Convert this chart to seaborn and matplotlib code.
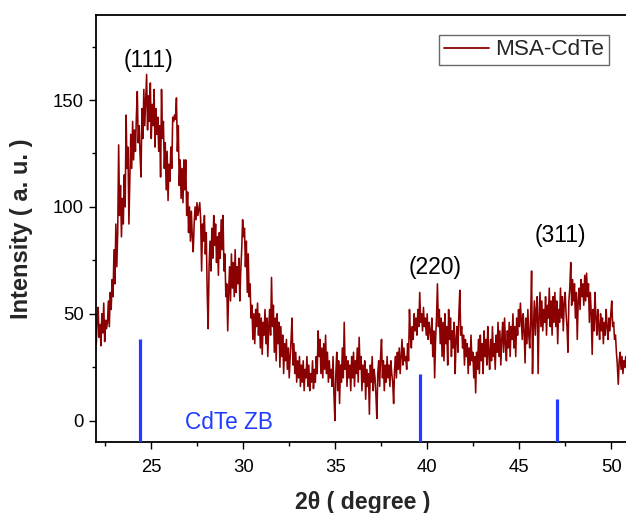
import numpy as np
import pandas as pd
import matplotlib
matplotlib.use("Agg")
import matplotlib.pyplot as plt
import seaborn as sns
from matplotlib.ticker import MultipleLocator

# ---- data ----
theta_start, theta_end = 21.61, 50.93   # 2-theta scan range
intensity = [
    48, 42, 52, 40, 46, 38, 50, 44, 36, 47, 53, 39, 45, 35, 50, 41, 55, 37, 47, 43,
    46, 56, 44, 60, 52, 66, 58, 80, 64, 92, 72, 88, 129, 96, 110, 86, 104, 92, 115, 100,
    143, 118, 128, 92, 112, 134, 118, 140, 122, 136, 126, 142, 154, 130, 138, 124, 114, 146, 132, 155,
    138, 150, 162, 136, 152, 140, 158, 132, 148, 138, 155, 128, 146, 134, 142, 126, 138, 114, 155, 132,
    140, 118, 130, 108, 126, 103, 120, 112, 128, 118, 142, 140, 143, 141, 151, 126, 138, 110, 122, 104,
    118, 102, 122, 108, 122, 96, 107, 88, 100, 84, 98, 86, 79, 92, 100, 94, 102, 96, 99, 102,
    94, 70, 92, 84, 96, 78, 88, 60, 43, 72, 84, 70, 90, 76, 96, 82, 92, 74, 86, 68,
    88, 76, 94, 80, 96, 70, 78, 58, 64, 42, 60, 72, 56, 78, 62, 74, 58, 80, 60, 72,
    64, 76, 56, 70, 80, 94, 86, 90, 72, 84, 60, 78, 58, 64, 48, 54, 38, 50, 36, 52,
    44, 55, 40, 50, 34, 48, 31, 46, 40, 52, 36, 48, 30, 44, 52, 40, 67, 44, 54, 32,
    48, 28, 50, 36, 46, 25, 44, 30, 40, 22, 36, 28, 38, 24, 34, 20, 30, 38, 48, 26,
    36, 22, 32, 18, 28, 20, 30, 16, 26, 18, 28, 14, 24, 20, 30, 16, 26, 14, 22, 18,
    28, 15, 24, 18, 30, 22, 42, 30, 38, 22, 34, 20, 36, 24, 40, 22, 32, 18, 28, 20,
    24, 16, 30, 12, 0, 22, 32, 14, 28, 8, 26, 18, 34, 20, 46, 24, 30, 16, 28, 20,
    26, 14, 30, 20, 32, 16, 28, 22, 34, 18, 39, 24, 30, 14, 26, 18, 28, 10, 24, 16,
    22, 3, 26, 18, 30, 14, 24, 20, 12, 1, 22, 28, 16, 30, 38, 20, 28, 14, 26, 18,
    30, 20, 26, 16, 28, 22, 18, 8, 24, 30, 20, 32, 24, 34, 22, 30, 38, 26, 34, 28,
    30, 24, 36, 28, 52, 40, 34, 44, 38, 50, 42, 48, 40, 52, 44, 60, 46, 50, 42, 53,
    44, 48, 40, 50, 38, 46, 42, 36, 48, 30, 42, 20, 38, 48, 64, 44, 52, 36, 48, 30,
    46, 28, 50, 36, 44, 26, 52, 38, 48, 30, 42, 34, 46, 22, 38, 44, 32, 50, 61, 40,
    44, 34, 40, 26, 38, 30, 36, 22, 34, 26, 40, 28, 32, 20, 30, 13, 32, 24, 38, 22,
    40, 28, 36, 22, 42, 30, 38, 26, 44, 32, 24, 38, 28, 44, 30, 36, 24, 40, 32, 46,
    30, 42, 26, 38, 46, 32, 48, 36, 28, 42, 34, 46, 30, 44, 38, 50, 34, 44, 30, 48,
    40, 52, 44, 55, 46, 38, 50, 42, 27, 48, 36, 52, 40, 34, 48, 70, 22, 44, 56, 40,
    52, 58, 22, 48, 60, 44, 56, 42, 52, 46, 58, 40, 54, 48, 62, 44, 56, 40, 58, 46,
    60, 44, 56, 36, 52, 46, 62, 48, 58, 42, 55, 60, 50, 44, 32, 56, 62, 74, 54, 66,
    56, 64, 48, 60, 38, 56, 62, 52, 66, 58, 64, 54, 68, 56, 69, 58, 64, 46, 60, 50,
    31, 52, 42, 60, 48, 40, 52, 44, 38, 50, 42, 48, 36, 46, 40, 52, 44, 38, 48, 42,
    50, 56, 44, 46, 38, 40, 32, 26, 17, 28, 32, 24, 30, 22, 28, 25, 30, 24, 28, 26,
]
series_name = "MSA-CdTe"

ref_positions = [24.41, 39.58, 47.05]   # CdTe zinc-blende reference lines
ref_heights = [38.2, 21.8, 10.1]
ref_label = "CdTe ZB"

peak_labels = ["(111)", "(220)", "(311)"]
peak_label_x = [24.86, 40.41, 47.25]
peak_label_y = [168.5, 71.5, 86.5]

x_ticks = [25, 30, 35, 40, 45, 50]
y_ticks = [0, 50, 100, 150]

df = pd.DataFrame({
    "two_theta": np.linspace(theta_start, theta_end, len(intensity)),
    "intensity": intensity,
    "sample": series_name,
})

# ---- figure ----
sns.set_style("ticks")
plt.rcParams["font.family"] = ["Liberation Sans", "DejaVu Sans"]

W, H = 626, 513
fig = plt.figure(figsize=(W / 100, H / 100), dpi=100)
left_px, right_px, top_px, bottom_px = 96, 630, 15, 442
ax = fig.add_axes([left_px / W, (H - bottom_px) / H,
                   (right_px - left_px) / W, (bottom_px - top_px) / H])

sns.lineplot(data=df, x="two_theta", y="intensity", hue="sample",
             palette={series_name: "#8b0000"}, linewidth=1.15, ax=ax,
             estimator=None, sort=False)

ymin = -10.0
ax.vlines(ref_positions, ymin, ref_heights, color="#1f3cff", linewidth=2.3, zorder=3)
ax.text(29.21, -1.1, ref_label, color="#1f3cff", fontsize=16.3, ha="center", va="center")

for lab, lx, ly in zip(peak_labels, peak_label_x, peak_label_y):
    ax.text(lx, ly, lab, fontsize=16.5, ha="center", va="center", color="black")

ax.set_xlim(22.0, 51.01)
ax.set_ylim(ymin, 189.8)
ax.set_xticks(x_ticks)
ax.set_yticks(y_ticks)
ax.xaxis.set_minor_locator(MultipleLocator(2.5))
ax.yaxis.set_minor_locator(MultipleLocator(25))
ax.tick_params(axis="both", which="major", direction="out", length=5, width=1,
               labelsize=13.3, color="black", labelcolor="black", pad=4)
ax.tick_params(axis="x", which="major", pad=7)
ax.tick_params(axis="both", which="minor", direction="out", length=3, width=1, color="black")
for s in ["left", "bottom", "top"]:
    ax.spines[s].set_linewidth(1.3)
    ax.spines[s].set_color("black")
    ax.spines[s].set_visible(True)
ax.spines["right"].set_visible(False)

ax.set_xlabel("2θ ( degree )", fontsize=16.7, fontweight="bold", labelpad=11)
ax.set_ylabel("Intensity ( a. u. )", fontsize=17, fontweight="bold", labelpad=14)

leg = ax.legend(loc="upper right", bbox_to_anchor=(609 / W, 1 - 35 / H),
                bbox_transform=fig.transFigure, borderaxespad=0, fontsize=16.2,
                frameon=True, fancybox=False, handlelength=2.0, handletextpad=0.3,
                borderpad=0.2, title=None)
leg.get_frame().set_edgecolor("#444444")
leg.get_frame().set_linewidth(1.0)
for h in leg.get_lines():
    h.set_linewidth(1.3)

fig.savefig("out.png", dpi=100)
